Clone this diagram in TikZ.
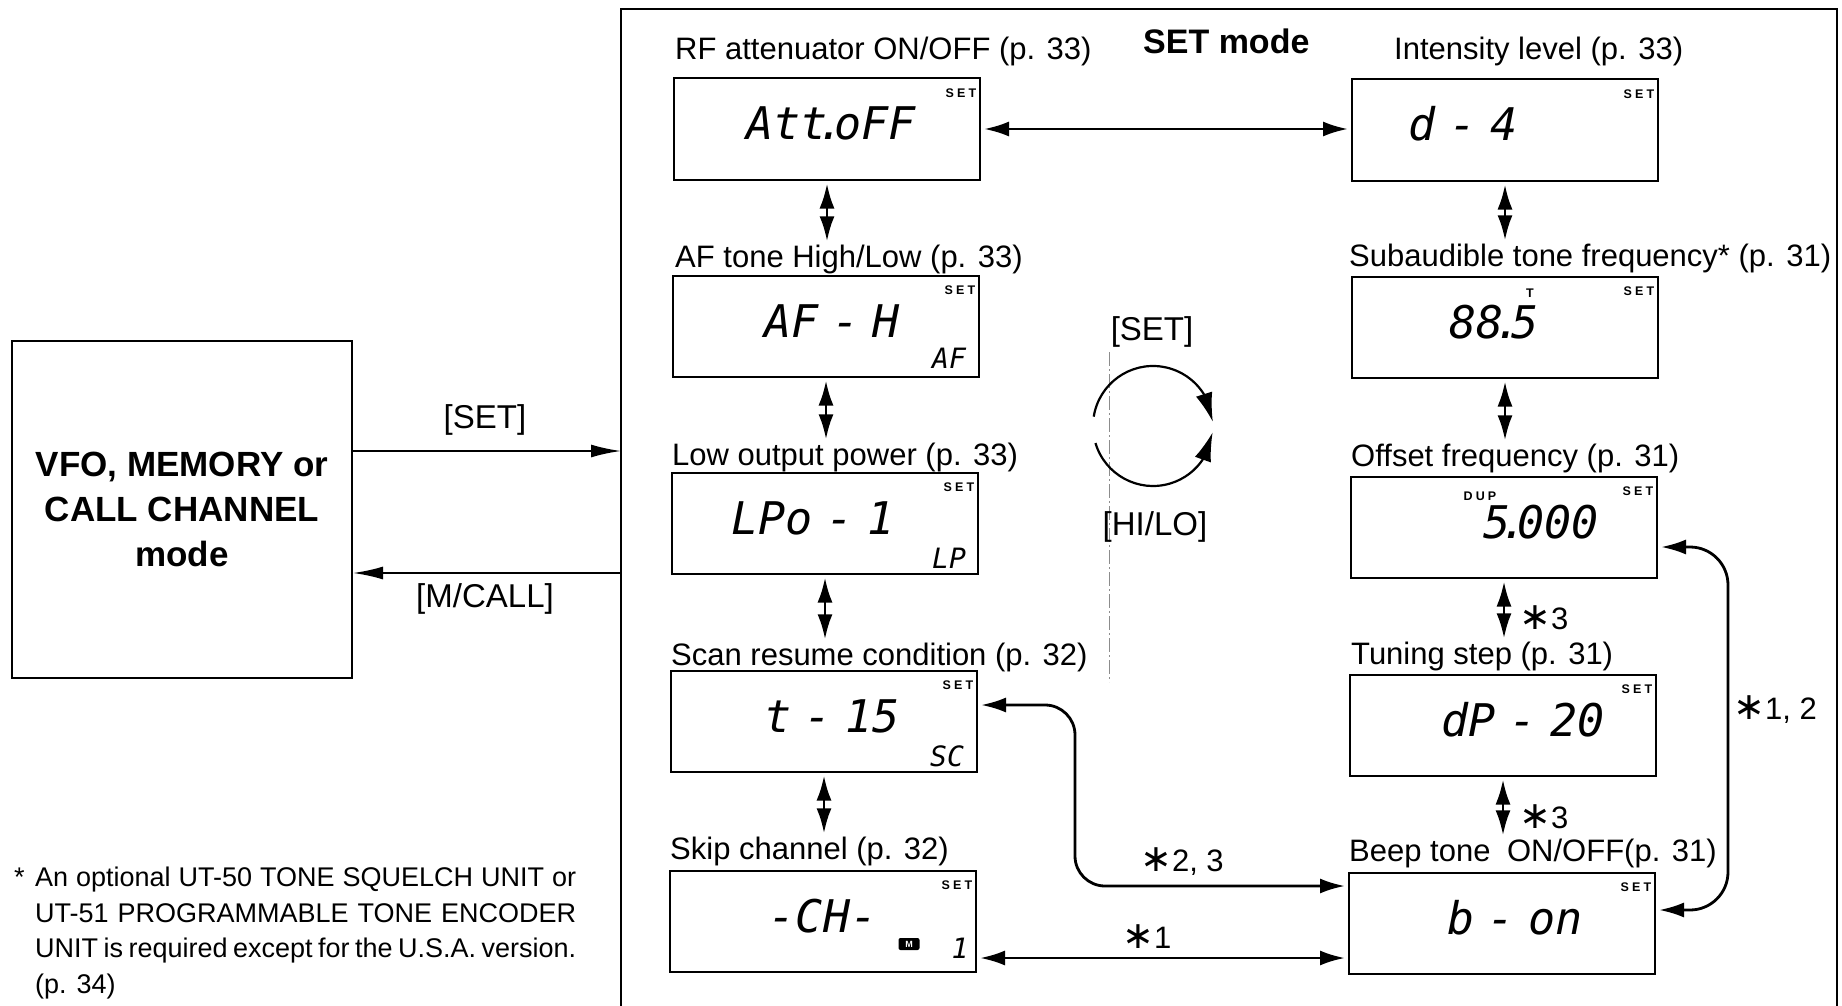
\documentclass[tikz,border=0pt]{standalone}
\usepackage{fontspec}
\setmainfont{Liberation Sans}
\newfontfamily\lcdfont{DejaVu Sans Mono}[ItalicFont={DejaVu Sans Mono Oblique},WordSpace=0.5]
\newfontfamily\symfont{DejaVu Sans}
\usetikzlibrary{arrows.meta,bending}
\newcommand\lcddot{\kern-0.22em.\kern-0.22em}
\newcommand\bigast{{\fontsize{38}{38}\symfont ∗}}
\tikzset{
  lcdbox/.style={draw, line width=2pt, minimum width=306pt, minimum height=101pt, inner sep=0pt},
  lbl/.style={anchor=base west, inner sep=0pt, font=\fontsize{31}{31}\selectfont},
  lcdtext/.style={anchor=base, inner sep=0pt, font=\fontsize{45}{45}\lcdfont\itshape},
  lcdsmall/.style={anchor=base, inner sep=0pt, font=\fontsize{28}{28}\lcdfont\itshape},
  setmark/.style={inner sep=0pt, font=\fontsize{12.5}{12.5}\selectfont\bfseries\addfontfeature{LetterSpace=25}},
  keylbl/.style={inner sep=0pt, font=\fontsize{33}{33}\selectfont},
  starlbl/.style={anchor=base west, inner sep=0pt, font=\fontsize{31}{31}\selectfont},
  fnline/.style={anchor=base west, inner sep=0pt, font=\fontsize{27}{27}\selectfont},
  dbl/.style={{Latex[length=25pt,width=15pt]}-{Latex[length=25pt,width=15pt]}, line width=2.8pt, shorten <=3pt, shorten >=3pt},
  onearrow/.style={-{Latex[length=30pt,width=13pt]}, line width=2pt},
  looparrow/.style={-{Latex[length=29pt,width=17pt]}, line width=2.2pt},
}
\begin{document}
\begin{tikzpicture}[x=1pt,y=-1pt]
\useasboundingbox (0,0) rectangle (1842,1006);
\fill[white] (0,0) rectangle (1842,1006);

% SET mode frame (open at the bottom)
\draw[line width=2pt] (621,1010) -- (621,9) -- (1837,9) -- (1837,1010);
\node[anchor=base west, inner sep=0pt, font=\fontsize{34}{34}\selectfont\bfseries] (title) at (1143,54) {SET mode};

% VFO box
\node[draw, line width=2pt, minimum width=340pt, minimum height=337pt, inner sep=0pt, align=center,
      font=\fontsize{35}{45}\selectfont\bfseries] (vfo) at (182,509.5) {VFO, MEMORY or\\CALL CHANNEL\\mode};
\coordinate (fin) at (621,451);
\coordinate (fout) at (621,573);
\draw[onearrow] (vfo.east |- fin) -- (fin);
\draw[onearrow] (fout) -- (vfo.east |- fout);
\node[keylbl] (lset) at (485,420) {[SET]};
\node[keylbl] (lmc) at (485,599) {[M/CALL]};

% left column boxes
\node[lcdbox] (att) at (827,129) {};
\node[lcdbox] (afh) at (826,326) {};
\node[lcdbox] (lpo) at (825,523) {};
\node[lcdbox] (tsc) at (824,721) {};
\node[lcdbox] (skp) at (823,921) {};
% right column boxes
\node[lcdbox] (dint) at (1505,130) {};
\node[lcdbox] (tone) at (1505,327) {};
\node[lcdbox] (ofs) at (1504,527) {};
\node[lcdbox] (tstep) at (1503,725) {};
\node[lcdbox] (beep) at (1502,923) {};

% labels
\node[lbl] (lRF) at (675,60) {RF attenuator ON/OFF (p. 33)};
\node[lbl] (lInt) at (1394,60) {Intensity level (p. 33)};
\node[lbl] (lAF) at (675,267) {AF tone High/Low (p. 33)};
\node[lbl] (lSub) at (1349,266) {Subaudible tone frequency* (p. 31)};
\node[lbl] (lLow) at (672,465) {Low output power (p. 33)};
\node[lbl] (lOfs) at (1351,466) {Offset frequency (p. 31)};
\node[lbl] (lScan) at (671,665) {Scan resume condition (p. 32)};
\node[lbl] (lTun) at (1351,664) {Tuning step (p. 31)};
\node[lbl] (lSkip) at (670,859) {Skip channel (p. 32)};
\node[lbl] (lBeep) at (1349,861) {Beep tone\hspace{8pt} ON/OFF(p. 31)};

% LCD readouts
\node[lcdtext] (tatt) at (831,140) {Att\lcddot oFF};
\node[lcdtext] (tafh) at (832,337) {AF - H};
\node[lcdtext] (tlpo) at (813,534) {LPo - 1};
\node[lcdtext] (ttsc) at (832,732) {t - 15};
\node[lcdtext] (tskp) at (823,932) {-CH-};
\node[lcdtext] (tdint) at (1463,141) {d - 4};
\node[lcdtext] (ttone) at (1494,338) {88\lcddot 5};
\node[lcdtext] (tofs) at (1541,538) {5\lcddot 000};
\node[lcdtext] (ttstep) at (1523,736) {dP - 20};
\node[lcdtext] (tbeep) at (1515,934) {b - on};
\node[lcdsmall] (saf) at (949,368) {AF};
\node[lcdsmall] (slp) at (949,568) {LP};
\node[lcdsmall] (ssc) at (947,766) {SC};
\node[lcdsmall] (sone) at (960,958) {1};
\node[fill=black, rounded corners=2pt, minimum width=21pt, minimum height=12pt, inner sep=0pt,
      text=white, font=\fontsize{9}{9}\selectfont\bfseries] (mbadge) at (909,944) {M};
\node[setmark] (mt) at (1530,293) {T};
\node[setmark] (mdup) at (1480,496) {DUP};
\foreach \b in {att,afh,lpo,tsc,skp,dint,tone,ofs,tstep,beep}
  \node[setmark] (set-\b) at ([shift={(-20,16)}]\b.north east) {SET};

% vertical double arrows
\draw[dbl] (att.south) -- (att.south |- lAF.north);
\draw[dbl] (afh.south) -- (afh.south |- lLow.north);
\draw[dbl] (lpo.south) -- (lpo.south |- lScan.north);
\draw[dbl] (tsc.south) -- (tsc.south |- lSkip.north);
\draw[dbl] (dint.south) -- (dint.south |- lSub.north);
\draw[dbl] (tone.south) -- (tone.south |- lOfs.north);
\draw[dbl] (ofs.south) -- (ofs.south |- lTun.north);
\draw[dbl] (tstep.south) -- (tstep.south |- lBeep.north);
\node[starlbl] (a3a) at (1519,629) {\bigast 3};
\node[starlbl] (a3b) at (1519,828) {\bigast 3};

% horizontal top
\draw[dbl] (att.east) -- (att.east -| dint.west);

% *1,2
\coordinate (k1) at (1728,547);
\coordinate (k2) at (1728,910);
\draw[dbl, rounded corners=38pt] (ofs.east |- k1) -- (k1) -- (k2) -- (beep.east |- k2);
\node[starlbl] (a12) at (1733,719) {\bigast 1, 2};

% *2,3
\coordinate (m1) at (1075,705);
\coordinate (m2) at (1075,886);
\draw[dbl, rounded corners=30pt] (tsc.east |- m1) -- (m1) -- (m2) -- (beep.west |- m2);
\node[starlbl] (a23) at (1140,871) {\bigast 2, 3};

% *1
\coordinate (n1) at (1000,958);
\draw[dbl] (skp.east |- n1) -- (beep.west |- n1);
\node[starlbl] (a1) at (1122,948) {\bigast 1};

% [SET] / [HI/LO] loop
\draw[black!45, line width=0.8pt, dash pattern=on 14pt off 3pt on 2pt off 3pt] (1109,352) -- (1109,682);
\coordinate (cc) at (1153,426);
\draw[looparrow] (cc) ++(-171:60) arc[start angle=-171, end angle=-4, radius=60];
\draw[looparrow] (cc) ++(163.5:60) arc[start angle=163.5, end angle=6, radius=60];
\node[keylbl] (cset) at (1152,332) {[SET]};
\node[keylbl] (chilo) at (1155,527) {[HI/LO]};

% footnote
\node[fnline] (fnstar) at (14,886) {*};
\node[fnline] (fn1) at (35,886) {\makebox[541pt][s]{An optional UT-50 TONE SQUELCH UNIT or}};
\node[fnline] (fn2) at (35,922) {\makebox[541pt][s]{UT-51 PROGRAMMABLE TONE ENCODER}};
\node[fnline] (fn3) at (35,957) {\makebox[541pt][s]{UNIT is required except for the U.S.A. version.}};
\node[fnline] (fn4) at (35,993) {(p. 34)};
\end{tikzpicture}
\end{document}
